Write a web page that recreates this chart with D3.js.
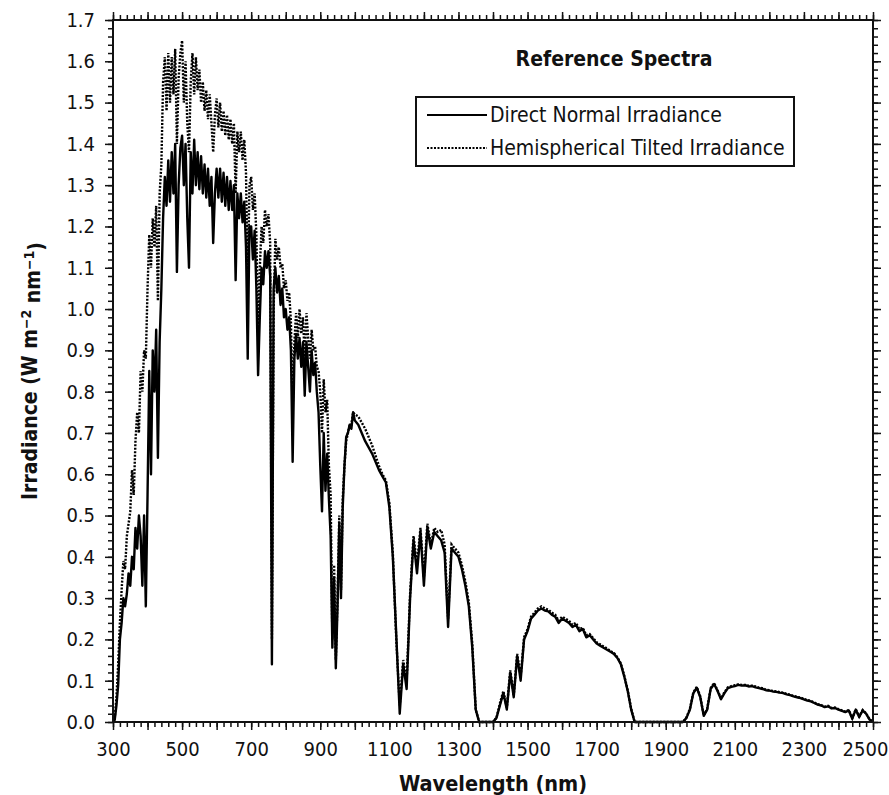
<!DOCTYPE html>
<html>
<head>
<meta charset="utf-8">
<script src="https://cdn.jsdelivr.net/npm/d3@7"></script>
<style>
  body { margin: 0; background: #fff; }
  svg text { font-family: "DejaVu Sans Condensed", "DejaVu Sans", sans-serif; font-stretch: condensed; fill: #111; }
</style>
</head>
<body>
<svg id="chart" width="889" height="795"></svg>
<script>
// wavelength grids (nm)
var wlVis = d3.range(300, 1001, 5);
var wlIr = d3.range(1010, 2501, 10);

// Direct Normal Irradiance, 300-1000 nm
var dniVis = [
  0, 0.005, 0.04, 0.09, 0.20, 0.24, 0.30, 0.28, 0.31, 0.36,
  0.33, 0.40, 0.37, 0.47, 0.42, 0.50, 0.45, 0.33, 0.50, 0.28,
  0.55, 0.85, 0.60, 0.90, 0.80, 0.95, 0.64, 0.92, 1.05, 1.22,
  1.32, 1.25, 1.36, 1.26, 1.38, 1.28, 1.40, 1.09, 1.30, 1.39,
  1.42, 1.30, 1.40, 1.22, 1.10, 1.38, 1.28, 1.41, 1.30, 1.38,
  1.29, 1.37, 1.28, 1.35, 1.27, 1.34, 1.25, 1.32, 1.16, 1.28,
  1.34, 1.27, 1.34, 1.26, 1.33, 1.25, 1.32, 1.24, 1.31, 1.24,
  1.30, 1.07, 1.28, 1.22, 1.28, 1.21, 1.26, 1.15, 0.88, 1.20,
  1.20, 1.12, 1.19, 1.05, 0.84, 0.98, 1.10, 1.06, 1.14, 1.10,
  1.14, 1.08, 0.14, 1.05, 1.10, 1.04, 1.08, 1.01, 1.05, 0.98,
  1.00, 0.95, 0.98, 0.90, 0.63, 0.88, 0.94, 0.88, 0.93, 0.86,
  0.92, 0.79, 0.92, 0.86, 0.80, 0.90, 0.84, 0.87, 0.80, 0.75,
  0.62, 0.51, 0.70, 0.56, 0.65, 0.54, 0.45, 0.18, 0.35, 0.13,
  0.28, 0.48, 0.30, 0.52, 0.62, 0.69, 0.70, 0.72, 0.71, 0.75,
  0.73
];

// Hemispherical Tilted Irradiance, 300-1000 nm
var gtiVis = [
  0, 0.01, 0.06, 0.14, 0.24, 0.32, 0.39, 0.37, 0.45, 0.48,
  0.51, 0.61, 0.55, 0.68, 0.75, 0.70, 0.85, 0.80, 0.90, 0.88,
  1.05, 1.18, 1.10, 1.22, 1.15, 1.25, 1.02, 1.28, 1.35, 1.55,
  1.61, 1.48, 1.62, 1.50, 1.61, 1.52, 1.63, 1.40, 1.56, 1.62,
  1.65, 1.50, 1.60, 1.45, 1.38, 1.55, 1.62, 1.52, 1.61, 1.53,
  1.58, 1.50, 1.55, 1.48, 1.53, 1.46, 1.52, 1.45, 1.38, 1.47,
  1.51, 1.44, 1.50, 1.43, 1.48, 1.42, 1.47, 1.41, 1.46, 1.40,
  1.45, 1.28, 1.43, 1.38, 1.43, 1.36, 1.41, 1.33, 1.05, 1.30,
  1.32, 1.24, 1.28, 1.18, 0.95, 1.10, 1.20, 1.16, 1.24, 1.20,
  1.23, 1.16, 0.20, 1.00, 1.17, 1.12, 1.15, 1.10, 1.11, 1.05,
  1.07, 1.02, 1.04, 0.97, 0.75, 0.92, 0.99, 0.93, 1.00, 0.94,
  0.98, 0.88, 0.99, 0.93, 0.88, 0.95, 0.90, 0.91, 0.86, 0.85,
  0.80, 0.70, 0.83, 0.75, 0.78, 0.62, 0.55, 0.20, 0.38, 0.15,
  0.30, 0.50, 0.32, 0.54, 0.62, 0.68, 0.70, 0.72, 0.72, 0.75,
  0.745
];

// Direct Normal Irradiance, 1010-2500 nm
var dniIr = [
  0.72, 0.70, 0.68, 0.665, 0.65, 0.63, 0.61, 0.595, 0.58, 0.52,
  0.40, 0.21, 0.02, 0.14, 0.08, 0.30, 0.44, 0.36, 0.46, 0.33,
  0.47, 0.42, 0.46, 0.45, 0.44, 0.41, 0.23, 0.42, 0.41, 0.40,
  0.37, 0.33, 0.28, 0.18, 0.03, 0, 0, 0, 0, 0,
  0.01, 0.04, 0.07, 0.03, 0.12, 0.06, 0.16, 0.10, 0.20, 0.22,
  0.25, 0.26, 0.27, 0.275, 0.27, 0.268, 0.26, 0.255, 0.24, 0.25,
  0.245, 0.24, 0.23, 0.235, 0.22, 0.225, 0.205, 0.21, 0.20, 0.19,
  0.185, 0.18, 0.175, 0.17, 0.165, 0.155, 0.14, 0.11, 0.075, 0.03,
  0, 0, 0, 0, 0, 0, 0, 0, 0, 0,
  0, 0, 0, 0, 0, 0.01, 0.03, 0.07, 0.083, 0.06,
  0.015, 0.03, 0.08, 0.092, 0.075, 0.055, 0.07, 0.082, 0.085, 0.087,
  0.09, 0.088, 0.089, 0.086, 0.087, 0.084, 0.082, 0.08, 0.077, 0.076,
  0.074, 0.073, 0.071, 0.07, 0.067, 0.065, 0.062, 0.06, 0.058, 0.055,
  0.052, 0.05, 0.046, 0.042, 0.04, 0.036, 0.038, 0.033, 0.034, 0.03,
  0.027, 0.024, 0.028, 0.008, 0.03, 0.012, 0.028, 0.02, 0.006, 0
];

// Hemispherical Tilted Irradiance, 1010-2500 nm
var gtiIr = [
  0.74, 0.725, 0.71, 0.69, 0.67, 0.645, 0.62, 0.60, 0.585, 0.53,
  0.41, 0.20, 0.04, 0.15, 0.10, 0.31, 0.45, 0.38, 0.47, 0.35,
  0.48, 0.43, 0.47, 0.46, 0.465, 0.43, 0.25, 0.43, 0.42, 0.41,
  0.38, 0.34, 0.29, 0.19, 0.03, 0, 0, 0, 0, 0,
  0.01, 0.045, 0.075, 0.035, 0.125, 0.065, 0.165, 0.11, 0.205, 0.225,
  0.255, 0.265, 0.275, 0.28, 0.275, 0.272, 0.265, 0.26, 0.245, 0.255,
  0.25, 0.245, 0.235, 0.24, 0.225, 0.228, 0.21, 0.213, 0.203, 0.193,
  0.188, 0.183, 0.178, 0.172, 0.167, 0.157, 0.142, 0.112, 0.077, 0.032,
  0, 0, 0, 0, 0, 0, 0, 0, 0, 0,
  0, 0, 0, 0, 0, 0.011, 0.032, 0.072, 0.085, 0.062,
  0.016, 0.032, 0.082, 0.094, 0.077, 0.057, 0.072, 0.084, 0.087, 0.089,
  0.091, 0.09, 0.09, 0.088, 0.088, 0.086, 0.083, 0.082, 0.078, 0.077,
  0.075, 0.074, 0.072, 0.071, 0.068, 0.066, 0.063, 0.061, 0.059, 0.056,
  0.053, 0.051, 0.047, 0.043, 0.041, 0.037, 0.039, 0.034, 0.035, 0.031,
  0.028, 0.025, 0.029, 0.009, 0.031, 0.013, 0.029, 0.021, 0.007, 0
];

var seriesNames = ["Direct Normal Irradiance", "Hemispherical Tilted Irradiance"];

var margin = {top: 20, right: 16, bottom: 73, left: 113};
var svg = d3.select("svg#chart");
var width = +svg.attr("width") - margin.left - margin.right;
var height = +svg.attr("height") - margin.top - margin.bottom;

var x = d3.scaleLinear().domain([300, 2500]).range([0, width]);
var y = d3.scaleLinear().domain([0, 1.7]).range([height, 0]);

var g = svg.append("g").attr("transform", "translate(" + margin.left + "," + margin.top + ")");

function toPoints(wls, vals) {
  return wls.map(function(w, i) { return [w, vals[i]]; });
}
var dni = toPoints(wlVis, dniVis).concat(toPoints(wlIr, dniIr));
var gti = toPoints(wlVis, gtiVis).concat(toPoints(wlIr, gtiIr));

var line = d3.line()
  .x(function(d) { return x(d[0]); })
  .y(function(d) { return y(d[1]); });

// lines
g.append("path").datum(gti)
  .attr("fill", "none").attr("stroke", "#000")
  .attr("stroke-width", 2.4).attr("stroke-dasharray", "2,1.5")
  .attr("d", line);

g.append("path").datum(dni)
  .attr("fill", "none").attr("stroke", "#000")
  .attr("stroke-width", 2.4).attr("stroke-linejoin", "round")
  .attr("d", line);

// axes: minor + major, mirrored on all sides
var xMinor = d3.range(300, 2501, 20);
var xMajor = d3.range(300, 2501, 100);
var yMinor = d3.range(0, 1.7001, 0.02);
var yMajor = d3.range(0, 1.7001, 0.1);

function styleAxis(sel) {
  sel.select(".domain").remove();
  sel.selectAll("line").attr("stroke", "#111").attr("stroke-width", 1.5);
  sel.selectAll("text").attr("font-size", "20px").attr("fill", "#111");
}

g.append("g").attr("transform", "translate(0," + height + ")")
  .call(d3.axisBottom(x).tickValues(xMinor).tickSize(5).tickFormat(""))
  .call(styleAxis);
var xLabels = g.append("g").attr("transform", "translate(0," + height + ")")
  .call(d3.axisBottom(x).tickValues(xMajor).tickSize(8).tickPadding(12)
    .tickFormat(function(d) { return (d - 300) % 200 === 0 ? d : ""; }))
  .call(styleAxis);
// last label sits a little left so it stays inside the page
xLabels.selectAll("text").filter(function(d) { return d === 2500; })
  .attr("dx", "-8");
g.append("g")
  .call(d3.axisTop(x).tickValues(xMinor).tickSize(5).tickFormat(""))
  .call(styleAxis);
g.append("g")
  .call(d3.axisTop(x).tickValues(xMajor).tickSize(8).tickFormat(""))
  .call(styleAxis);

g.append("g")
  .call(d3.axisLeft(y).tickValues(yMinor).tickSize(5).tickFormat(""))
  .call(styleAxis);
g.append("g")
  .call(d3.axisLeft(y).tickValues(yMajor).tickSize(8).tickPadding(10).tickFormat(d3.format(".1f")))
  .call(styleAxis);
g.append("g").attr("transform", "translate(" + width + ",0)")
  .call(d3.axisRight(y).tickValues(yMinor).tickSize(5).tickFormat(""))
  .call(styleAxis);
g.append("g").attr("transform", "translate(" + width + ",0)")
  .call(d3.axisRight(y).tickValues(yMajor).tickSize(8).tickFormat(""))
  .call(styleAxis);

// frame
g.append("rect")
  .attr("width", width).attr("height", height)
  .attr("fill", "none").attr("stroke", "#111").attr("stroke-width", 2);

// axis titles
svg.append("text")
  .attr("x", margin.left + width / 2).attr("y", 791)
  .attr("text-anchor", "middle")
  .attr("font-size", "21.5px").attr("font-weight", "bold")
  .text("Wavelength (nm)");

var yt = svg.append("text")
  .attr("transform", "translate(37," + (margin.top + height / 2) + ") rotate(-90)")
  .attr("text-anchor", "middle")
  .attr("font-size", "21px").attr("font-weight", "bold");
yt.append("tspan").text("Irradiance (W m");
yt.append("tspan").attr("dy", "-0.45em").attr("font-size", "14px").text("\u22122");
yt.append("tspan").attr("dy", "0.45em").text(" nm");
yt.append("tspan").attr("dy", "-0.45em").attr("font-size", "14px").text("\u22121");
yt.append("tspan").attr("dy", "0.45em").text(")");

// title and legend
svg.append("text")
  .attr("x", 614).attr("y", 66)
  .attr("text-anchor", "middle")
  .attr("font-size", "21px").attr("font-weight", "bold")
  .text("Reference Spectra");

var legend = svg.append("g").attr("class", "legend");
legend.append("rect")
  .attr("x", 416).attr("y", 97).attr("width", 378).attr("height", 69)
  .attr("fill", "#fff").attr("stroke", "#111").attr("stroke-width", 2);

var dashes = [null, "2,1.5"];
seriesNames.forEach(function(name, i) {
  var ly = 115 + i * 33;
  legend.append("line")
    .attr("x1", 427).attr("x2", 487).attr("y1", ly).attr("y2", ly)
    .attr("stroke", "#000").attr("stroke-width", 2)
    .attr("stroke-dasharray", dashes[i]);
  legend.append("text")
    .attr("x", 490).attr("y", ly + 7)
    .attr("font-size", "21px")
    .text(name);
});
</script>
</body>
</html>
